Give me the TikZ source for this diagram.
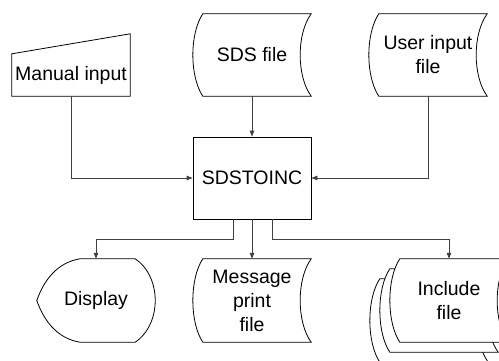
\documentclass[tikz,border=0pt]{standalone}
\usepackage{fontspec}
\setmainfont{Liberation Sans}
\usetikzlibrary{arrows.meta,backgrounds}
\newcommand\storeddata[1]{%
	\draw[shape line,fill=white] (#1.north west) -- ([xshift=10pt]#1.north east)
		.. controls ([xshift=-4.7pt,yshift=-20pt]#1.north east) and ([xshift=-4.7pt,yshift=20pt]#1.south east) .. ([xshift=10pt]#1.south east)
		-- (#1.south west)
		.. controls ([xshift=-13.3pt,yshift=20pt]#1.south west) and ([xshift=-13.3pt,yshift=-20pt]#1.north west) .. cycle;}

\begin{document}
\begin{tikzpicture}[x=1pt,y=-1pt,
		shape line/.style={line width=0.8pt},
		conn/.style={line width=0.8pt,draw=black!75,-{Triangle[length=6pt,width=4.5pt]}},
		lbl/.style={font=\fontsize{19.5}{24}\selectfont,align=center,inner sep=0pt},
		store/.style={lbl,minimum width=98pt,minimum height=83pt}]
		\useasboundingbox (0,0) rectangle (499,360);
		
		\node[lbl,minimum width=118pt,minimum height=42pt] (manual)at(71,75) {Manual input};
		\node[store,minimum height=82pt] (sds)at(252,55) {SDS file};
		\node[store,minimum height=82pt] (user)at(428,55) {User input\\file};
		\node[lbl,draw,shape line,minimum width=118pt,minimum height=82pt] (box)at(252,178) {SDSTOINC};
		\node[lbl,minimum width=118pt,minimum height=83pt] (disp)at(96,300.5) {Display};
		\node[store] (msg)at(252,300.5) {Message\\print\\file};
		\node[store] (inclc)at(429,320.5) {};
		\node[store] (inclb)at(439,310.5) {};
		\node[store] (incl)at(449,300.5) {Include\\file};
		
		\begin{scope}[on background layer]
			\draw[shape line] (manual.south west) -- (manual.south east) -- ([yshift=20pt]manual.north east) -- (manual.north west) -- cycle;
			\storeddata{sds}
			\storeddata{user}
			\draw[shape line] ([xshift=43pt]disp.north west) -- ([xshift=-20pt]disp.north east)
				.. controls ([xshift=6.7pt,yshift=-18pt]disp.north east) and ([xshift=6.7pt,yshift=18pt]disp.south east) .. ([xshift=-20pt]disp.south east)
				-- ([xshift=43pt]disp.south west)
				.. controls ([xshift=20pt,yshift=4pt]disp.south west) and ([xshift=7pt,yshift=-20pt]disp.west) .. (disp.west)
				.. controls ([xshift=7pt,yshift=20pt]disp.west) and ([xshift=20pt,yshift=-4pt]disp.north west) .. cycle;
			\storeddata{msg}
			\storeddata{inclc}
			\storeddata{inclb}
			\storeddata{incl}
		\end{scope}
		
		\draw[conn] (manual) |- (box);
		\draw[conn] (sds) -- (box);
		\draw[conn] (user) |- (box);
		\draw[conn] ([xshift=-19pt]box.south) -- ++(0,20) -| (disp);
		\draw[conn] (box) -- (msg);
		\draw[conn] ([xshift=20pt]box.south) -- ++(0,20) -| (incl);
	\end{tikzpicture}
\end{document}
